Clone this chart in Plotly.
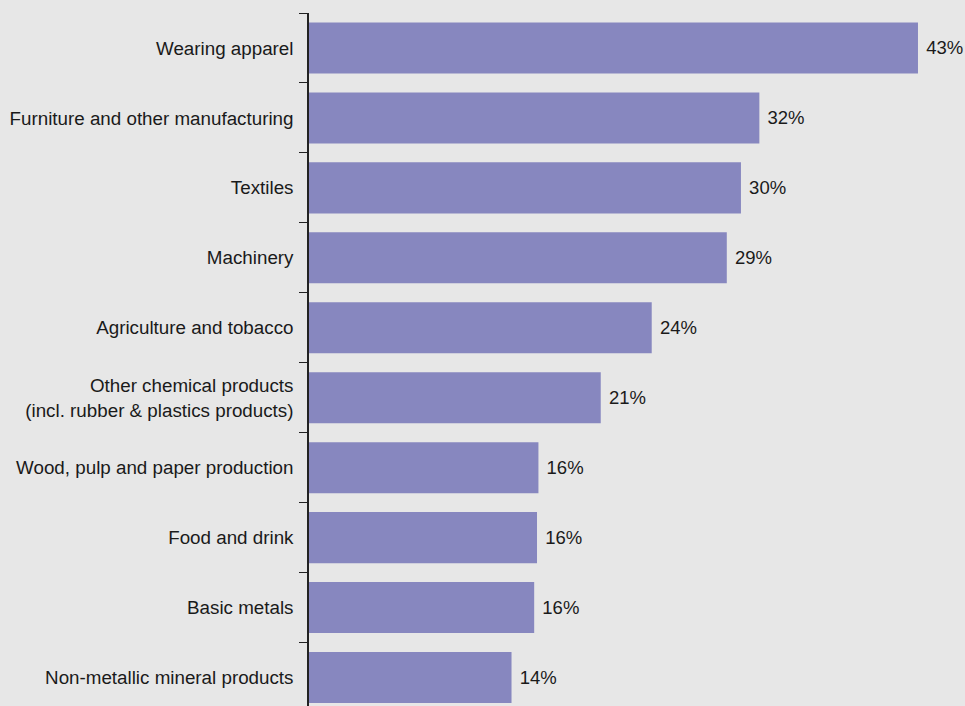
import plotly.graph_objects as go

categories = [
    "Wearing apparel",
    "Furniture and other manufacturing",
    "Textiles",
    "Machinery",
    "Agriculture and tobacco",
    "Other chemical products<br>(incl. rubber & plastics products)",
    "Wood, pulp and paper production",
    "Food and drink",
    "Basic metals",
    "Non-metallic mineral products",
]
values = [43.0, 31.8, 30.5, 29.5, 24.2, 20.6, 16.2, 16.1, 15.9, 14.3]
value_labels = ["43%", "32%", "30%", "29%", "24%", "21%", "16%", "16%", "16%", "14%"]

cats = categories[::-1]
vals = values[::-1]
labs = [" " + s for s in value_labels[::-1]]

FONT = "Liberation Sans, Arial, sans-serif"

fig = go.Figure(go.Bar(
    x=vals,
    y=cats,
    orientation="h",
    marker=dict(color="#8787bf", line=dict(width=0)),
    text=labs,
    textposition="outside",
    textfont=dict(family=FONT, size=18.5, color="#1a1a1a"),
    cliponaxis=False,
    hoverinfo="skip",
))

fig.update_layout(
    width=965,
    height=706,
    margin=dict(l=309, r=0, t=13, b=0, pad=0),
    paper_bgcolor="#e7e7e7",
    plot_bgcolor="#e7e7e7",
    bargap=0.27,
    showlegend=False,
    font=dict(family=FONT, size=18.8, color="#1a1a1a"),
    xaxis=dict(range=[0, 46.32], showticklabels=False, showgrid=False, zeroline=False,
               showline=False, ticks=""),
    yaxis=dict(range=[-0.407, 9.5], showgrid=False, zeroline=False, showline=True,
               linecolor="#222222", linewidth=1.5, ticks="outside", ticklen=8,
               tickwidth=1, tickcolor="#222222", tickson="boundaries",
               ticklabelstandoff=10, automargin=False,
               tickfont=dict(family=FONT, size=18.8, color="#1a1a1a")),
)

fig.write_html(
    "out.html",
    config={"displayModeBar": False},
    post_script="document.body.style.margin='0';document.body.style.overflow='hidden';document.body.style.background='#e7e7e7';",
)
